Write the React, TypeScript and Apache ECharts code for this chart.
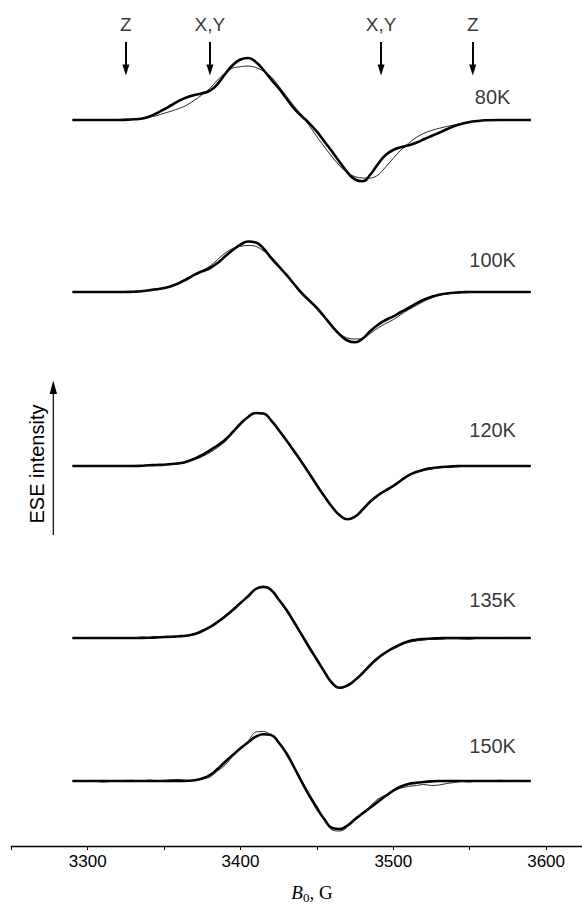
import React, { useEffect, useRef } from "react";
import * as echarts from "echarts";

// Magnetic field grid (G): 10 G steps on the flat wings, 5 G steps across the signal
const B = [
  3290, 3300, 3310, 3320,
  3330, 3335, 3340, 3345, 3350, 3355, 3360, 3365, 3370, 3375,
  3380, 3385, 3390, 3395, 3400, 3405, 3410, 3415, 3420, 3425,
  3430, 3435, 3440, 3445, 3450, 3455, 3460, 3465, 3470, 3475,
  3480, 3485, 3490, 3495, 3500, 3505, 3510, 3515, 3520, 3525,
  3530, 3535, 3540, 3545, 3550, 3555, 3560,
  3570, 3580, 3590,
];

// Simulated (thick) and experimental (thin) ESE spectra, arbitrary units
const sim80 = [0, 0, 0, 0, 0.7, 1.3, 3.3, 6.7, 10.7, 15, 19.3, 22.7, 25, 26.7, 29.3, 36, 46, 55, 60.5, 62, 58, 50, 40.7, 31.7, 21.7, 11.7, 4, -3.3, -11.7, -21.7, -31.7, -42.3, -52.3, -59.5, -61.3, -54.5, -44, -35, -30, -27.3, -25.3, -22.7, -19.3, -16, -12.7, -9.3, -6, -3.7, -2, -1, -0.3, 0, 0, 0];
const exp80 = [0, 0, 0, 0, 0.5, 1.3, 2.7, 4.3, 6.7, 9, 11.7, 15, 20, 25.3, 31.7, 40, 47.3, 52, 53.3, 54, 52.5, 49, 43.3, 34, 24, 14, 5, -5.5, -16.7, -27, -37, -46, -53, -56.7, -58, -58, -55, -47, -38.3, -30, -23.3, -17.5, -13.3, -10.5, -8.3, -6.5, -5, -3.2, -1.7, -0.8, -0.3, 0, 0, 0];
const sim100 = [0, 0, 0, 0, 0.3, 0.7, 1.7, 2.7, 4, 6, 9, 13, 17.3, 20.7, 24, 29, 35.7, 42, 47.3, 50.5, 49.5, 43.5, 34, 25.7, 17.3, 8, -1, -8.5, -16, -25, -34.3, -42.5, -48.5, -50.3, -46.5, -39, -32.7, -28, -24.3, -20, -16, -11.5, -7.7, -4.8, -2.7, -1.5, -0.7, -0.3, 0, 0, 0, 0, 0, 0];
const exp100 = [0, 0, 0, 0, 0.3, 0.7, 1.3, 2.3, 3.5, 6.5, 10, 14, 18, 21.5, 25.7, 32.5, 39, 43.5, 45.7, 46.5, 45.7, 41, 35.7, 27, 17.8, 8.5, -1.5, -9, -16.5, -25, -34, -42, -46, -47, -46.5, -41.5, -36, -31.5, -27.7, -22.5, -17.7, -13.5, -9.3, -6, -3.5, -2, -1, -0.5, -0.3, 0, 0, 0, 0, 0];
const sim120 = [0, 0, 0, 0, 0, 0.2, 0.7, 1, 1.3, 2, 2.7, 4.5, 7.3, 11, 15.7, 20.5, 26.3, 34, 42.3, 49, 53, 52.5, 45.7, 36, 25.7, 15, 4, -7.5, -19.3, -30.5, -41, -49.3, -53.3, -50.5, -43.5, -35.5, -29.3, -24.5, -20, -14.5, -9.3, -6, -3.7, -2.2, -1.3, -0.7, -0.3, 0, 0, 0, 0, 0, 0, 0];
const exp120 = [0, 0, 0, 0, 0.3, 0.3, 0.5, 0.7, 1, 1.5, 2.3, 4, 6.5, 9.5, 13.5, 18.5, 24.5, 33.5, 42, 49.5, 52.5, 52, 46, 36.5, 26.5, 16, 5, -7, -18.5, -30, -40.5, -49, -53, -50.5, -43.5, -35, -29, -24, -19, -14, -9, -6.3, -4.3, -3, -1.8, -1.3, -0.8, -0.3, 0, 0, 0, 0, 0, 0];
const sim135 = [0, 0, 0, 0, 0, 0.1, 0.3, 0.6, 1, 1.3, 1.7, 2.5, 4, 7, 11, 16, 21.7, 28, 35, 41.7, 49, 51, 48, 38.5, 28.3, 16, 3.3, -9.5, -21.7, -34, -45, -49.7, -47.5, -42, -35, -27, -20, -14.5, -10, -6.3, -3.3, -1.8, -1, -0.6, -0.3, 0, 0, 0, 0, 0, 0, 0, 0, 0];
const exp135 = [0, 0.3, -0.3, 0.5, 0.3, 0.8, 0.3, 1.5, 1, 1.5, 1.5, 2.3, 4.5, 7, 10, 15, 20.5, 28, 35.5, 42.5, 49.5, 52, 47.5, 38, 27, 16.5, 4.5, -8, -20.5, -33, -44.5, -50.3, -48, -42, -34, -25.5, -19, -14.5, -10.5, -7, -4.3, -3, -2, -1.3, -1.3, -0.7, -0.7, -1, -1.3, -0.3, 0, 0.3, 0, 0];
const sim150 = [0, 0, 0, 0, 0, 0, 0, 0, 0, 0, 0, 0.2, 0.7, 2.5, 6, 12, 19.3, 26, 32.7, 38.7, 44.3, 46.8, 46, 38.5, 27.7, 14, -0.7, -14.5, -27.3, -38.5, -47, -48, -44.5, -38.3, -32.3, -26.5, -20.7, -15, -9.7, -5.5, -3, -1.8, -1, -0.4, 0, 0, 0, 0, 0, 0, 0, 0, 0, 0];
const exp150 = [-0.3, 0.5, -1, 0.3, 0.7, -0.5, 1, 0.3, 0.7, 1.3, 1.5, 0.3, 0.5, 2, 4, 10, 16, 25, 33, 40, 49, 49.5, 46, 38, 29, 14.5, 0.5, -13, -25, -39, -49, -50, -46, -37, -33, -25, -18, -14, -10, -7, -5.5, -4.5, -3.5, -4.5, -4, -2.5, -1.5, -0.5, -1, 0.5, -0.3, 0.8, -0.5, 0.3];

const SIM = [sim80, sim100, sim120, sim135, sim150];
const EXP = [exp80, exp100, exp120, exp135, exp150];
const OFFSETS = [726, 554, 380, 208, 65];
const TEMPS = ["80K", "100K", "120K", "135K", "150K"];
const TEMP_LABEL_FIELD = 3565;
const TEMP_LABEL_RISE = [23, 32, 36, 38, 35];

// Principal-axis markers
const ARROW_FIELDS = [3325, 3380, 3492, 3552];
const ARROW_LABELS = ["Z", "X,Y", "X,Y", "Z"];
const ARROW_TOP = 804;
const ARROW_BOTTOM = 776;
const ARROW_LABEL_Y = 822;

const X_MIN = 3250;
const X_MAX = 3623.5;

const FONT = "'Liberation Sans', Arial, Helvetica, sans-serif";
const SERIF = "'Liberation Serif', 'Times New Roman', serif";

export default function App() {
  const ref = useRef<HTMLDivElement>(null);

  useEffect(() => {
    if (!ref.current) return;
    const chart = echarts.init(ref.current, null, { renderer: "svg" });

    const series: any[] = [];
    SIM.forEach((s, k) => {
      series.push({
        type: "line",
        name: "sim" + TEMPS[k],
        data: B.map((b, i) => [b, OFFSETS[k] + s[i]]),
        showSymbol: false,
        symbol: "none",
        smooth: 0.5,
        lineStyle: { color: "#000", width: 2.6 },
        z: 2,
      });
    });
    EXP.forEach((s, k) => {
      series.push({
        type: "line",
        name: "exp" + TEMPS[k],
        data: B.map((b, i) => [b, OFFSETS[k] + s[i]]),
        showSymbol: false,
        symbol: "none",
        smooth: 0.35,
        lineStyle: { color: "#111", width: 0.9 },
        z: 3,
      });
    });
    series.push({
      type: "scatter",
      symbolSize: 0,
      silent: true,
      data: TEMPS.map((t, k) => ({ value: [TEMP_LABEL_FIELD, OFFSETS[k] + TEMP_LABEL_RISE[k]], name: t })),
      label: {
        show: true,
        position: "inside",
        formatter: (p: any) => p.name,
        fontSize: 20,
        fontFamily: FONT,
        color: "#000",
      },
    });
    series.push({
      type: "scatter",
      symbolSize: 0,
      silent: true,
      data: ARROW_FIELDS.map((f, i) => ({ value: [f, ARROW_LABEL_Y], name: ARROW_LABELS[i] })),
      label: {
        show: true,
        position: "inside",
        formatter: (p: any) => p.name,
        fontSize: 19,
        fontFamily: FONT,
        color: "#000",
      },
      markLine: {
        silent: true,
        symbol: ["none", "triangle"],
        symbolSize: [7, 11],
        label: { show: false },
        lineStyle: { color: "#000", width: 2, type: "solid" },
        data: ARROW_FIELDS.map((f) => [
          { coord: [f, ARROW_TOP] },
          { coord: [f, ARROW_BOTTOM] },
        ]),
      },
    });

    chart.setOption({
      animation: false,
      backgroundColor: "#fff",
      grid: { left: 11.3, right: 0, top: 0, bottom: 59, containLabel: false },
      xAxis: {
        type: "value",
        min: X_MIN,
        max: X_MAX,
        interval: 50,
        axisLine: { show: true, lineStyle: { color: "#000", width: 1.3 } },
        axisTick: { show: true, length: 4, inside: false, lineStyle: { color: "#000", width: 1 } },
        axisLabel: {
          formatter: (v: number) => (Math.abs(v % 100) < 1e-6 ? String(v) : ""),
          fontSize: 17,
          fontFamily: FONT,
          color: "#000",
          margin: 7,
          showMaxLabel: false,
        },
        splitLine: { show: false },
      },
      yAxis: { type: "value", min: 0, max: 846, show: false },
      series,
      graphic: [
        {
          type: "line",
          shape: { x1: 53.3, y1: 535, x2: 53.3, y2: 390 },
          style: { stroke: "#000", lineWidth: 1.2 },
        },
        {
          type: "polygon",
          shape: { points: [[53.3, 380.5], [49.6, 394], [57, 394]] },
          style: { fill: "#000" },
        },
        {
          type: "text",
          x: 37,
          y: 464,
          rotation: Math.PI / 2,
          style: {
            text: "ESE intensity",
            fontSize: 20,
            fontFamily: FONT,
            fill: "#000",
            align: "center",
            verticalAlign: "middle",
          },
        },
        {
          type: "text",
          x: 312,
          y: 892,
          style: {
            text: "{b|B}{s|0}{n|, G}",
            align: "center",
            verticalAlign: "middle",
            rich: {
              b: { fontSize: 19, fontStyle: "italic", fontFamily: SERIF, fill: "#000" },
              s: { fontSize: 13, fontFamily: SERIF, fill: "#000", padding: [10, 0, 0, 0] },
              n: { fontSize: 19, fontFamily: SERIF, fill: "#000" },
            },
          },
        },
      ],
    });

    return () => chart.dispose();
  }, []);

  return (
    <div
      ref={ref}
      style={{ position: "fixed", left: 0, top: 0, width: 582, height: 905, background: "#fff" }}
    />
  );
}
